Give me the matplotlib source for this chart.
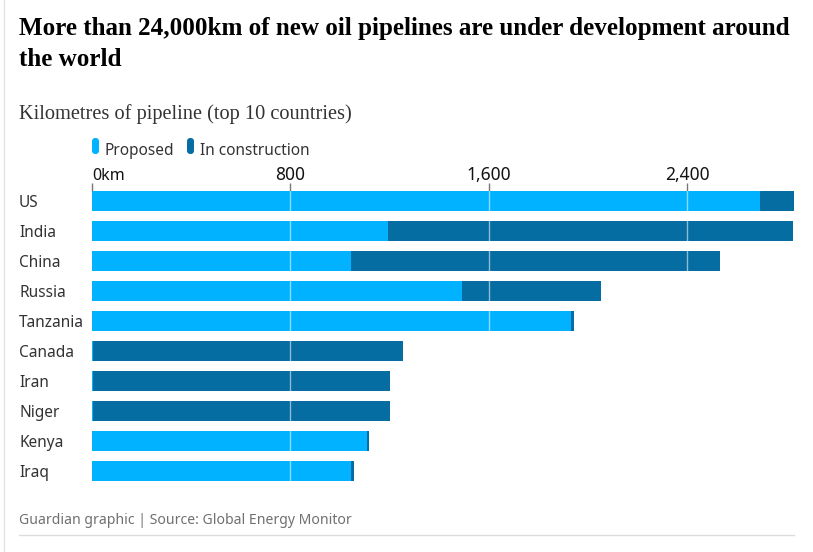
#!/usr/bin/env python3
import numpy as np
import matplotlib.pyplot as plt
from matplotlib.lines import Line2D
from matplotlib.patches import FancyBboxPatch

countries = ['US', 'India', 'China', 'Russia', 'Tanzania',
             'Canada', 'Iran', 'Niger', 'Kenya', 'Iraq']
proposed = [2694, 1194, 1044, 1492, 1931, 4, 4, 4, 1109, 1046]
construction = [137, 1633, 1488, 560, 13, 1250, 1198, 1198, 8, 10]
ticks = [0, 800, 1600, 2400]
tick_labels = ['0km', '800', '1,600', '2,400']

W, H = 813, 552
LIGHT = '#00b2ff'
DARK = '#056da1'
sans = ['Noto Sans', 'DejaVu Sans']
serif = ['Liberation Serif', 'DejaVu Serif']

fig = plt.figure(figsize=(W / 100, H / 100), dpi=100)

# axes placed in pixels: left 92, right 794, top 191, bottom 481
ax = fig.add_axes([92 / W, 1 - 481 / H, (794 - 92) / W, (481 - 191) / H])
pos = np.arange(len(countries))
proposed = np.array(proposed)
construction = np.array(construction)
ax.barh(pos, proposed, height=20 / 30, color=LIGHT, zorder=2)
ax.barh(pos, construction, left=proposed, height=20 / 30, color=DARK, zorder=2)
ax.set_xlim(0, 702 / 0.248)
ax.set_ylim(9 + 1 / 3, -1 / 3)
for s in ax.spines.values():
    s.set_visible(False)
ax.patch.set_alpha(0)

for t in ticks[1:]:
    ax.axvline(t, color='white', alpha=0.55, lw=1, zorder=3)

ax.xaxis.tick_top()
ax.set_xticks(ticks)
ax.set_xticklabels(tick_labels, family=sans, fontsize=12.5, color='#121212')
ax.get_xticklabels()[0].set_ha('left')
ax.get_xticklabels()[0].set_fontsize(11.5)
ax.tick_params(axis='x', length=5.5, width=1, color='#777777', pad=-0.8)
ax.set_yticks([])

# country names sit outside the axes, left aligned at x=19
for p, name in zip(pos, countries):
    ax.annotate(name, xy=(0, p), xycoords=('axes fraction', 'data'),
                xytext=(19 / W, -1.5), textcoords=('figure fraction', 'offset points'),
                family=sans, fontsize=11.1, color='#333333', va='center', ha='left')

fig.text(19 / W, 1 - 29 / H, 'More than 24,000km of new oil pipelines are under development around',
         family=serif, fontsize=18.1, fontweight='bold', color='#000000', va='center')
fig.text(19 / W, 1 - 60 / H, 'the world',
         family=serif, fontsize=18.1, fontweight='bold', color='#000000', va='center')
fig.text(19 / W, 1 - 114 / H, 'Kilometres of pipeline (top 10 countries)',
         family=serif, fontsize=14.7, color='#333333', va='center')

# legend markers are small rounded pills
for x0, c in [(92, LIGHT), (187, DARK)]:
    fig.add_artist(FancyBboxPatch((x0 + 1.75, H - 152.25), 3.5, 12.5, boxstyle='round,pad=0,rounding_size=1.5',
                                  mutation_aspect=1, transform=None, fc=c, ec=c, lw=2.5))
fig.text(104 / W, 1 - 151 / H, 'Proposed', family=sans, fontsize=11.1, color='#333333', va='center')
fig.text(200 / W, 1 - 151 / H, 'In construction', family=sans, fontsize=11.1, color='#333333', va='center')

fig.text(19 / W, 1 - 521 / H, 'Guardian graphic | Source: Global Energy Monitor',
         family=sans, fontsize=10.1, color='#707070', va='center')

# page rules
fig.add_artist(Line2D([19 / W, 794 / W], [1 - 534.5 / H] * 2, color='#dcdcdc', lw=1))
fig.add_artist(Line2D([3.5 / W] * 2, [0, 1], color='#e4e4e4', lw=1))

fig.savefig('out.png', dpi=100)
